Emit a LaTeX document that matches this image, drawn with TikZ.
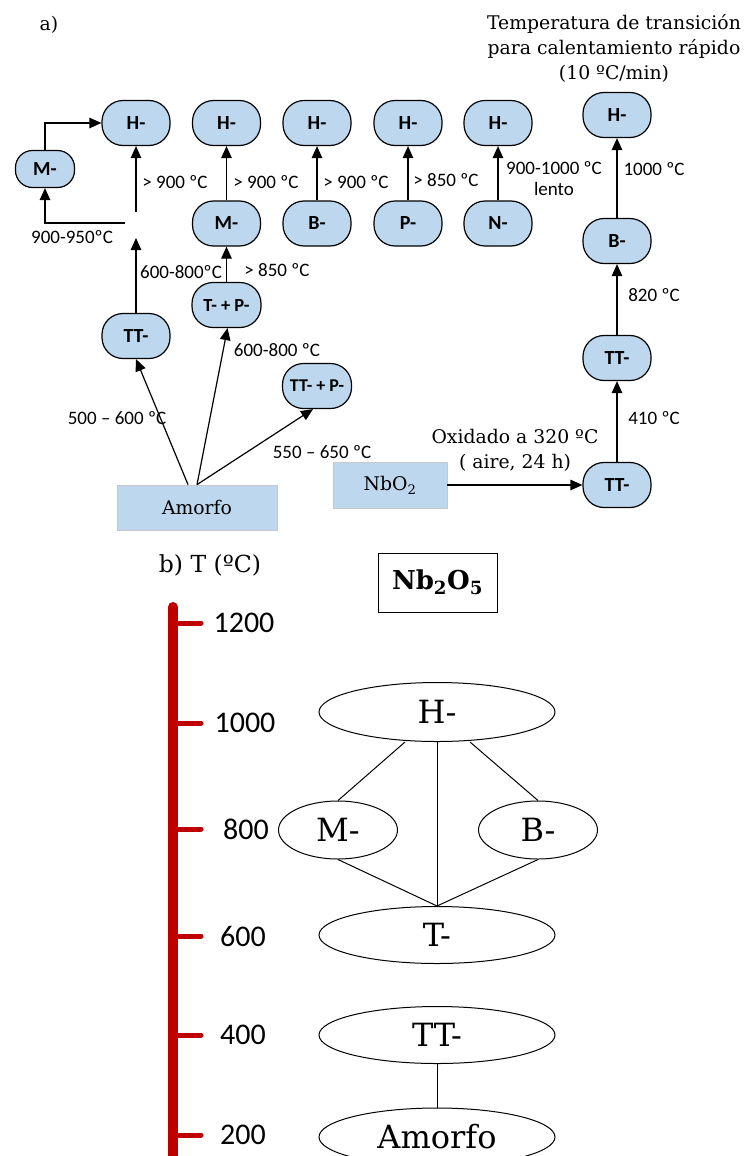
\documentclass[tikz,border=0pt]{standalone}
\usepackage{fontspec}
\setmainfont{DejaVu Serif}
\newfontfamily\calib{Carlito}
\usetikzlibrary{arrows.meta,shapes.geometric}
\definecolor{lblue}{HTML}{BDD7EE}
\definecolor{axred}{HTML}{C00000}
\definecolor{boxgray}{HTML}{C8C8C8}
\tikzset{
  phase/.style={draw=black, line width=1.2pt, fill=lblue, rounded corners=21pt,
    minimum width=68pt, minimum height=45pt, inner sep=0pt,
    font=\calib\bfseries\fontsize{20}{22}\selectfont},
  sphase/.style={phase, rounded corners=17pt, minimum width=59pt, minimum height=37pt},
  lab/.style={inner sep=0pt, font=\calib\fontsize{19}{21}\selectfont},
  slab/.style={inner sep=0pt, align=center, font=\fontsize{18.8}{25}\selectfont},
  arr/.style={-{Triangle[length=12pt,width=10.5pt]}, line width=1.2pt},
  srcbox/.style={draw=boxgray, line width=0.8pt, fill=lblue, inner sep=0pt,
    font=\fontsize{18.8}{25}\selectfont},
  ell/.style={ellipse, draw=black, line width=1pt, inner sep=0pt,
    font=\fontsize{32}{36}\selectfont},
  tick/.style={axred, line width=5pt, line cap=round},
  ticklab/.style={inner sep=0pt, font=\calib\fontsize{30}{34}\selectfont}
}
\begin{document}
\begin{tikzpicture}[x=1pt,y=-1pt]
\useasboundingbox (0,0) rectangle (746,1156);
\clip (0,0) rectangle (746,1156);

% ---------- part a ----------
\node[slab] (la) at (49,25) {a)};
\node[slab] (title) at (614,48) {Temperatura de transición\\para calentamiento rápido\\(10 ºC/min)};

% top row
\node[phase] (h1) at (136,123) {H-};
\node[phase] (h2) at (226.5,123) {H-};
\node[phase] (h3) at (317,123) {H-};
\node[phase] (h4) at (408,123) {H-};
\node[phase] (h5) at (498,123) {H-};
\node[phase] (h6) at (617,115) {H-};

% second row
\node[sphase] (m0) at (45,169) {M-};
\node[phase] (m2) at (226.5,223.5) {M-};
\node[phase] (b3) at (317,223.5) {B-};
\node[phase] (p4) at (408,223.5) {P-};
\node[phase] (n5) at (498,223.5) {N-};
\node[phase] (b6) at (617,241) {B-};

% lower nodes
\node[phase] (tt1) at (136,336) {TT-};
\node[phase, minimum width=69pt, font=\calib\bfseries\fontsize{18.5}{21}\selectfont] (tp) at (226.5,305) {T- + P-};
\node[phase, minimum width=69pt, font=\calib\bfseries\fontsize{18}{21}\selectfont] (ttp) at (317,386) {TT- + P-};
\node[phase] (tt6) at (617,358) {TT-};
\node[phase] (tt7) at (617,485) {TT-};

\node[srcbox, minimum width=160pt, minimum height=45pt] (am) at (197,507.5) {Amorfo};
\node[srcbox, minimum width=114pt, minimum height=46pt] (nb) at (390,485) {NbO\textsubscript{2}};

% junction near left column
\coordinate (j1) at (136,238);
\coordinate (j2) at (125,223);
\coordinate (j3) at (136,212);

\draw[arr] (m0.north) |- (h1.west);
\draw[arr] (j2) -| (m0.south);
\draw[arr] (j3) -- (h1.south);
\draw[arr] (tt1.north) -- (j1);

\draw[arr] (m2) -- (h2);
\draw[arr] (b3) -- (h3);
\draw[arr] (p4) -- (h4);
\draw[arr] (n5) -- (h5);
\draw[arr] (tp) -- (m2);

\draw[arr] ([xshift=-9pt]am.north) -- (tt1.south);
\draw[arr] (am.north) -- ([xshift=1pt]tp.south);
\draw[arr] (am.north) -- ([xshift=-4pt]ttp.south);

\draw[arr] (nb) -- (tt7);
\draw[arr] (tt7) -- (tt6);
\draw[arr] (tt6) -- (b6);
\draw[arr] (b6) -- (h6);

% labels
\node[lab] (l1) at (175,182) {> 900 ºC};
\node[lab] (l2) at (72,237) {900-950ºC};
\node[lab] (l3) at (181,272) {600-800ºC};
\node[lab] (l4) at (266,182) {> 900 ºC};
\node[lab] (l5) at (356,182) {> 900 ºC};
\node[lab] (l6) at (446,180) {> 850 ºC};
\node[lab, align=center] (l7) at (554,179) {900-1000 ºC\\lento};
\node[lab] (l8) at (277,270) {> 850 ºC};
\node[lab] (l9) at (277,350) {600-800 ºC};
\node[lab] (l10) at (117,418) {500 – 600 ºC};
\node[lab] (l11) at (322,452) {550 – 650 ºC};
\node[lab] (l12) at (654,169) {1000 ºC};
\node[lab] (l13) at (654,295) {820 ºC};
\node[lab] (l14) at (654,418) {410 ºC};
\node[slab] (l15) at (515,450) {Oxidado a 320 ºC\\( aire, 24 h)};

% ---------- part b ----------
\node[inner sep=0pt, font=\fontsize{23.5}{28}\selectfont] (lb) at (210,565) {b) T (ºC)};
\node[draw=black, line width=1pt, minimum width=119pt, minimum height=59pt, inner sep=0pt,
      font=\bfseries\fontsize{26}{30}\selectfont] (nb5) at (437.5,582.5) {Nb\textsubscript{2}O\textsubscript{5}};

% axis
\draw[axred, line width=10pt, line cap=round] (173,607) -- (173,1175);
\foreach \yy/\tl/\xx in {623/1200/244, 723/1000/245, 829/800/246, 936/600/243, 1035/400/243, 1135/200/243}{
  \draw[tick] (173,\yy) -- (201,\yy);
  \node[ticklab] at (\xx,\yy) {\tl};
}

\node[ell, minimum width=236pt, minimum height=59pt] (eh) at (437,712) {H-};
\node[ell, minimum width=119pt, minimum height=58pt] (em) at (338,830) {M-};
\node[ell, minimum width=119pt, minimum height=58pt] (eb) at (538,830) {B-};
\node[ell, minimum width=236pt, minimum height=57pt] (et) at (437,935) {T-};
\node[ell, minimum width=236pt, minimum height=57pt] (ett) at (437,1035) {TT-};
\node[ell, minimum width=236pt, minimum height=58pt] (eam) at (437,1137) {Amorfo};

\draw[line width=1pt] ([xshift=-32pt]eh.south) -- (em.north);
\draw[line width=1pt] ([xshift=33pt]eh.south) -- (eb.north);
\draw[line width=1pt] (eh.south) -- (et.north);
\draw[line width=1pt] (em.south) -- (et.north);
\draw[line width=1pt] (eb.south) -- (et.north);
\draw[line width=1pt] (ett.south) -- (eam.north);
\end{tikzpicture}
\end{document}
